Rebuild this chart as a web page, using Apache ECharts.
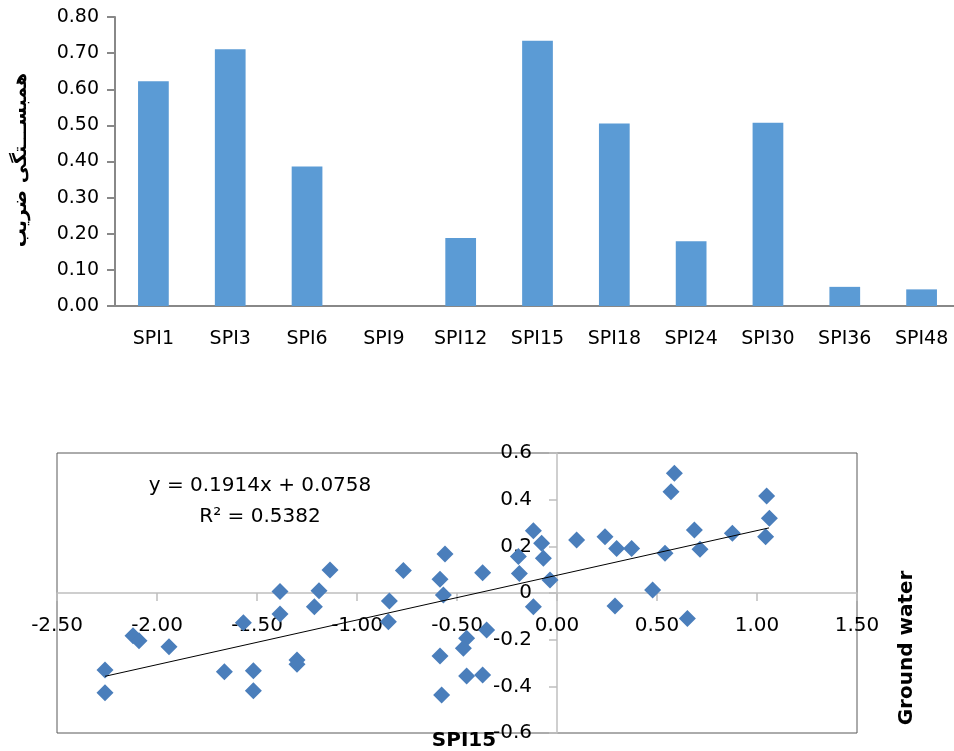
<!DOCTYPE html>
<html>
<head>
<meta charset="utf-8">
<style>
  html, body { margin: 0; padding: 0; background: #fff; }
  #chart { width: 954px; height: 751px; }
</style>
<script src="https://cdn.jsdelivr.net/npm/echarts@6/dist/echarts.min.js"></script>
</head>
<body>
<div id="chart"></div>
<script>
// bar chart: correlation per SPI time scale
const spiNames = ['SPI1', 'SPI3', 'SPI6', 'SPI9', 'SPI12', 'SPI15', 'SPI18', 'SPI24', 'SPI30', 'SPI36', 'SPI48']
const corrValues = [0.622, 0.711, 0.386, 0, 0.188, 0.734, 0.505, 0.179, 0.507, 0.053, 0.046]

// scatter: SPI15 vs ground water
const spi15 = [
  -2.26, -2.26, -2.12, -2.09, -1.94, -1.663, -1.518, -1.518, -1.568, -1.385,
  -1.385, -1.30, -1.30, -1.213, -1.19, -1.135, -0.838, -0.843, -0.768, -0.56,
  -0.585, -0.568, -0.585, -0.577, -0.452, -0.468, -0.452, -0.372, -0.372, -0.352,
  -0.118, -0.077, -0.193, -0.068, -0.188, -0.035, -0.118, 0.098, 0.24, 0.298,
  0.373, 0.29, 0.478, 0.54, 0.587, 0.57, 0.687, 0.715, 0.652, 0.877,
  1.048, 1.062, 1.043
]
const groundWater = [
  -0.33, -0.427, -0.183, -0.205, -0.23, -0.337, -0.333, -0.419, -0.127, -0.09,
  0.006, -0.287, -0.305, -0.059, 0.01, 0.099, -0.034, -0.123, 0.096, 0.167,
  0.059, -0.009, -0.27, -0.437, -0.194, -0.237, -0.356, -0.351, 0.087, -0.159,
  0.267, 0.213, 0.156, 0.149, 0.084, 0.056, -0.059, 0.227, 0.241, 0.191,
  0.191, -0.056, 0.013, 0.17, 0.513, 0.434, 0.27, 0.187, -0.109, 0.256,
  0.416, 0.32, 0.241
]
// trendline end points (as drawn)
const trendX = [-2.26, 1.06]
const trendY = [-0.357, 0.279]
const eqText = 'y = 0.1914x + 0.0758'
const r2Text = 'R² = 0.5382'

const xMin = -2.5, xMax = 1.5
const yMin = -0.6, yMax = 0.6

const font = 'DejaVu Sans'
const chart = echarts.init(document.getElementById('chart'))

// scatter grid box, axes cross inside it at zero
const sg = { left: 57, top: 453, width: 800, height: 280 }
const xAxisOffset = -sg.height * (0 - yMin) / (yMax - yMin)
const yAxisOffset = -sg.width * (0 - xMin) / (xMax - xMin)

const option = {
  animation: false,
  textStyle: { fontFamily: font },
  grid: [
    { left: 115, top: 17, width: 845, height: 289, outerBoundsMode: 'none', containLabel: false },
    Object.assign({ show: true, borderColor: '#595959', borderWidth: 1, outerBoundsMode: 'none', containLabel: false }, sg)
  ],
  xAxis: [
    {
      gridIndex: 0,
      type: 'category',
      data: spiNames,
      axisLine: { lineStyle: { color: '#888', width: 2 } },
      axisTick: { length: 8, lineStyle: { color: '#888', width: 2 } },
      axisLabel: { color: '#000', fontSize: 19, margin: 24, fontFamily: font }
    },
    {
      gridIndex: 1,
      type: 'value',
      min: xMin, max: xMax, interval: 0.5,
      offset: xAxisOffset,
      splitLine: { show: false },
      axisLine: { onZero: false, lineStyle: { color: '#bfbfbf', width: 1.5 } },
      axisTick: { length: 8, lineStyle: { color: '#bfbfbf', width: 1.5 } },
      axisLabel: { color: '#000', fontSize: 20, margin: 23, fontFamily: font, formatter: v => v.toFixed(2) }
    }
  ],
  yAxis: [
    {
      gridIndex: 0,
      type: 'value',
      min: 0, max: 0.8, interval: 0.1,
      splitLine: { show: false },
      axisLine: { show: true, lineStyle: { color: '#888', width: 2 } },
      axisTick: { show: true, length: 8, lineStyle: { color: '#888', width: 2 } },
      axisLabel: { color: '#000', fontSize: 19, margin: 16, fontFamily: font, formatter: v => v.toFixed(2) }
    },
    {
      gridIndex: 1,
      type: 'value',
      min: yMin, max: yMax, interval: 0.2,
      offset: yAxisOffset,
      splitLine: { show: false },
      axisLine: { show: true, onZero: false, lineStyle: { color: '#bfbfbf', width: 1.5 } },
      axisTick: { show: true, length: 8, lineStyle: { color: '#bfbfbf', width: 1.5 } },
      axisLabel: { color: '#000', fontSize: 20, margin: 25, fontFamily: font, formatter: v => String(+v.toFixed(1)) }
    }
  ],
  series: [
    {
      type: 'bar',
      xAxisIndex: 0, yAxisIndex: 0,
      data: corrValues,
      barCategoryGap: '60%',
      itemStyle: { color: '#5b9bd5' }
    },
    {
      type: 'scatter',
      xAxisIndex: 1, yAxisIndex: 1,
      data: spi15.map((x, i) => [x, groundWater[i]]),
      symbol: 'diamond',
      symbolSize: 17,
      itemStyle: { color: '#4a7ebb', opacity: 1 }
    },
    {
      type: 'line',
      xAxisIndex: 1, yAxisIndex: 1,
      data: trendX.map((x, i) => [x, trendY[i]]),
      symbol: 'none',
      lineStyle: { color: '#000', width: 1 },
      z: 3
    }
  ],
  graphic: [
    {
      type: 'text', x: 21, y: 160, rotation: Math.PI / 2,
      style: { text: 'همبســـتگی ضریب', font: 'bold 19px "DejaVu Sans"', fill: '#000', align: 'center', verticalAlign: 'middle' }
    },
    {
      type: 'text', x: 260, y: 486,
      style: { text: eqText, font: '20px "DejaVu Sans"', fill: '#000', align: 'center', verticalAlign: 'middle' }
    },
    {
      type: 'text', x: 260, y: 517,
      style: { text: r2Text, font: '20px "DejaVu Sans"', fill: '#000', align: 'center', verticalAlign: 'middle' }
    },
    {
      type: 'text', x: 464, y: 741,
      style: { text: 'SPI15', font: 'bold 20px "DejaVu Sans"', fill: '#000', align: 'center', verticalAlign: 'middle' }
    },
    {
      type: 'text', x: 907, y: 648, rotation: Math.PI / 2,
      style: { text: 'Ground water', font: 'bold 20px "DejaVu Sans"', fill: '#000', align: 'center', verticalAlign: 'middle' }
    }
  ]
}

chart.setOption(option)
</script>
</body>
</html>
